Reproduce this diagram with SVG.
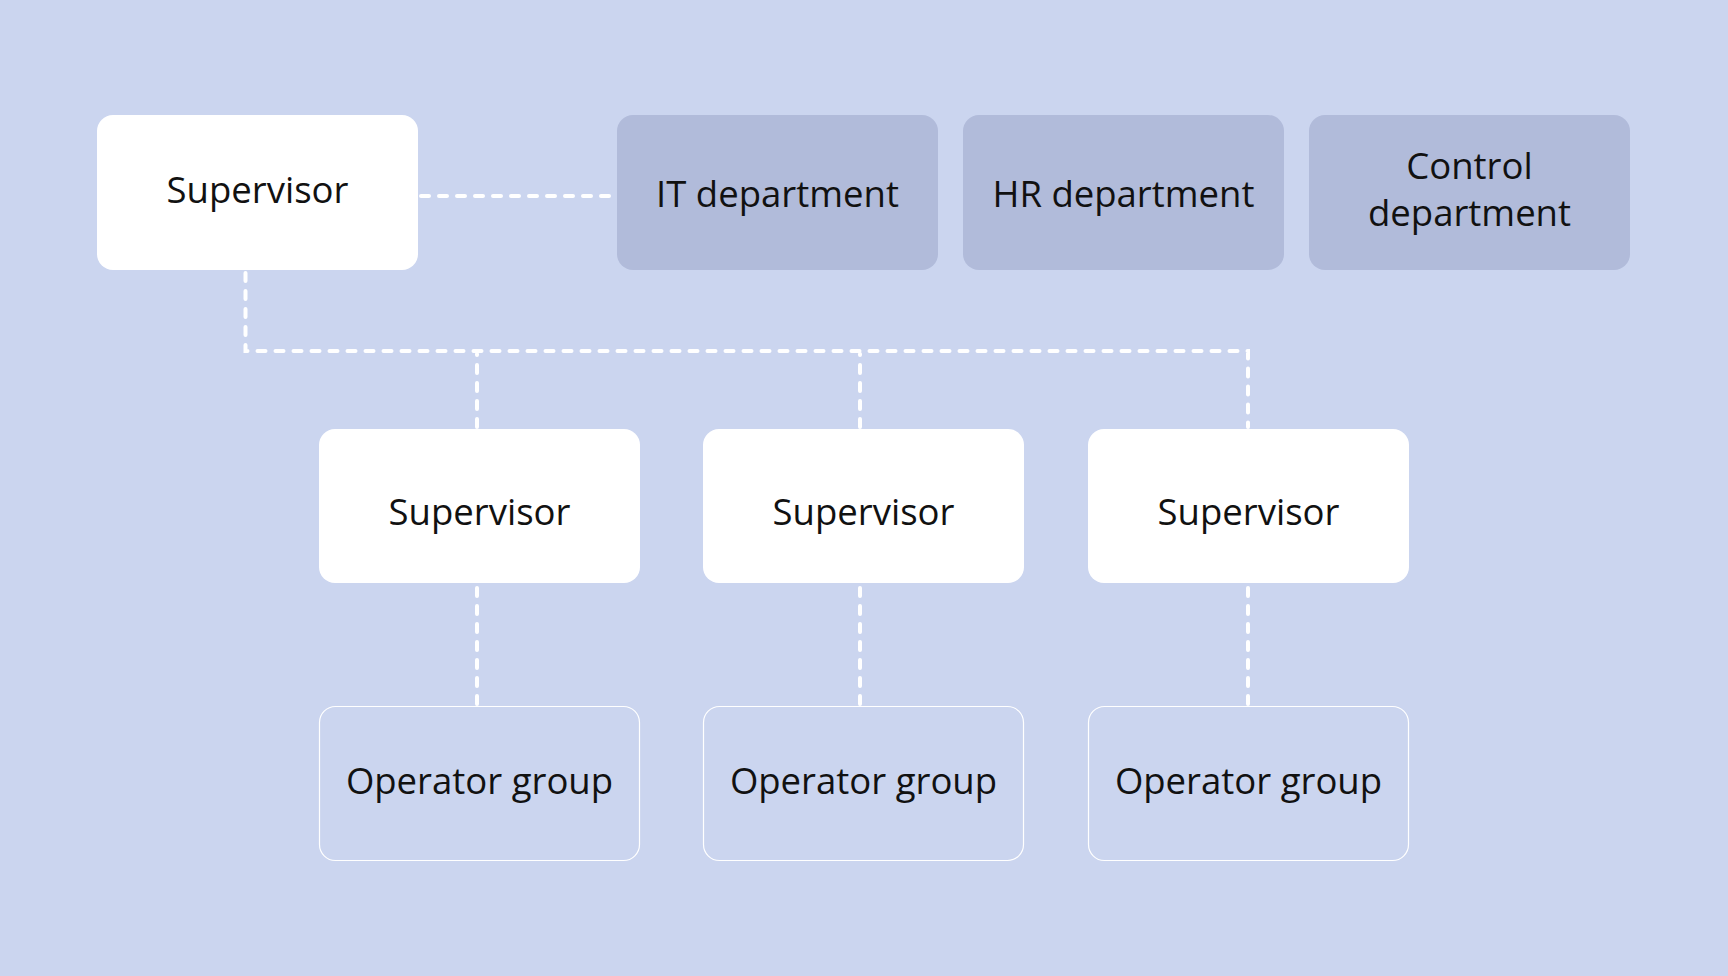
<svg xmlns="http://www.w3.org/2000/svg" width="1728" height="976" viewBox="0 0 1728 976">
<style>
.bg{fill:#CBD5EF}
.sup{fill:#FFFFFF}
.dept{fill:#B1BBDA}
.op{fill:#CBD5EF;stroke:#FFFFFF;stroke-width:1.2}
.t{font-family:"Open Sans","Liberation Sans",sans-serif;font-size:36.5px;fill:#111111;text-anchor:middle}
.c{fill:none;stroke:#FFFFFF;stroke-width:4;stroke-linecap:round;stroke-dasharray:8 10}
</style>
<rect class="bg" x="0" y="0" width="1728" height="976"/>
<g id="connectors">
<path class="c" d="M421 196 H615"/>
<path class="c" d="M245.5 273 V351 H1248 V427"/>
<path class="c" d="M477 427 V354"/>
<path class="c" d="M860 427 V354"/>
<path class="c" d="M477 704 V586"/>
<path class="c" d="M860 704 V586"/>
<path class="c" d="M1248 704 V586"/>
</g>
<g id="sup-top"><rect class="sup" x="97" y="115" width="321" height="155" rx="16"/><text class="t" x="257.5" y="203">Supervisor</text></g>
<g id="it-dept"><rect class="dept" x="617" y="115" width="321" height="155" rx="16"/><text class="t" x="777.5" y="207">IT department</text></g>
<g id="hr-dept"><rect class="dept" x="963" y="115" width="321" height="155" rx="16"/><text class="t" x="1123.5" y="207">HR department</text></g>
<g id="control-dept"><rect class="dept" x="1309" y="115" width="321" height="155" rx="16"/><text class="t" x="1469.5" y="179">Control</text><text class="t" x="1469.5" y="226">department</text></g>
<g id="sup-1"><rect class="sup" x="319" y="429" width="321" height="154" rx="16"/><text class="t" x="479.5" y="525">Supervisor</text></g>
<g id="sup-2"><rect class="sup" x="703" y="429" width="321" height="154" rx="16"/><text class="t" x="863.5" y="525">Supervisor</text></g>
<g id="sup-3"><rect class="sup" x="1088" y="429" width="321" height="154" rx="16"/><text class="t" x="1248.5" y="525">Supervisor</text></g>
<g id="op-1"><rect class="op" x="319.5" y="706.5" width="320" height="154" rx="16"/><text class="t" x="479.5" y="794">Operator group</text></g>
<g id="op-2"><rect class="op" x="703.5" y="706.5" width="320" height="154" rx="16"/><text class="t" x="863.5" y="794">Operator group</text></g>
<g id="op-3"><rect class="op" x="1088.5" y="706.5" width="320" height="154" rx="16"/><text class="t" x="1248.5" y="794">Operator group</text></g>
</svg>
